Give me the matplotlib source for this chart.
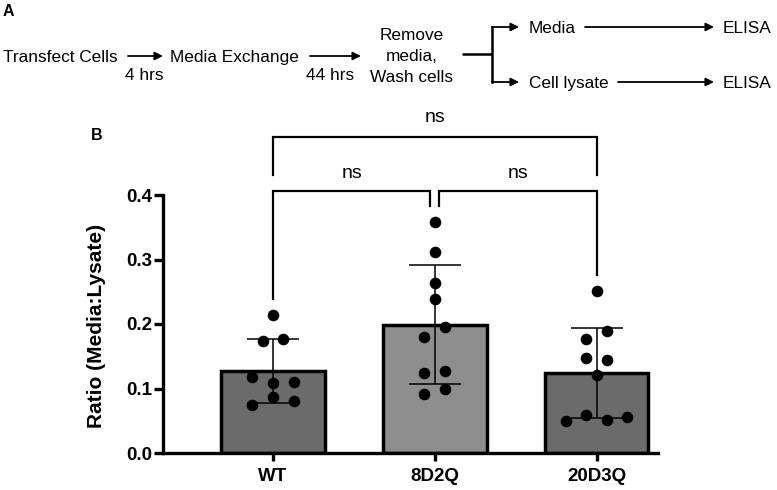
import numpy as np
import matplotlib
matplotlib.use("Agg")
import matplotlib.pyplot as plt

plt.rcParams['font.family'] = ['Liberation Sans', 'DejaVu Sans']

# ---------------- data ----------------
groups = ["WT", "8D2Q", "20D3Q"]
wt = [0.214, 0.174, 0.177, 0.118, 0.109, 0.110, 0.074, 0.087, 0.081]
d8d2q = [0.358, 0.312, 0.264, 0.239, 0.180, 0.195, 0.124, 0.127, 0.091, 0.099]
d20d3q = [0.251, 0.177, 0.189, 0.148, 0.144, 0.121, 0.050, 0.059, 0.051, 0.056]
values = [wt, d8d2q, d20d3q]
bar_colors = ["#6b6b6b", "#8e8e8e", "#6b6b6b"]
yticks = [0.0, 0.1, 0.2, 0.3, 0.4]
comparisons = [("WT", "8D2Q", "ns"), ("8D2Q", "20D3Q", "ns"), ("WT", "20D3Q", "ns")]

W, H = 777, 490
fig = plt.figure(figsize=(W / 100, H / 100), dpi=100)

# ---------------- panel A: flowchart (pixel overlay) ----------------
ov = fig.add_axes([0, 0, 1, 1])
ov.set_xlim(0, W)
ov.set_ylim(H, 0)
ov.axis("off")

fs = 12.4
ov.text(3, 16.5, "A", fontsize=11.5, fontweight="bold", va="baseline", ha="left")
ov.text(3, 62, "Transfect Cells", fontsize=fs, va="baseline", ha="left")
ov.text(144.5, 80, "4 hrs", fontsize=fs, va="baseline", ha="center")
ov.text(170, 62, "Media Exchange", fontsize=fs, va="baseline", ha="left")
ov.text(330, 80, "44 hrs", fontsize=fs, va="baseline", ha="center")
ov.text(412, 40, "Remove", fontsize=fs, va="baseline", ha="center")
ov.text(412, 61, "media,", fontsize=fs, va="baseline", ha="center")
ov.text(412, 82, "Wash cells", fontsize=fs, va="baseline", ha="center")
ov.text(529, 33, "Media", fontsize=fs, va="baseline", ha="left")
ov.text(723, 33, "ELISA", fontsize=fs, va="baseline", ha="left")
ov.text(529, 88, "Cell lysate", fontsize=fs, va="baseline", ha="left")
ov.text(723, 88, "ELISA", fontsize=fs, va="baseline", ha="left")


def arrow(x0, x1, y):
    ov.annotate("", xy=(x1, y), xytext=(x0, y),
                arrowprops=dict(arrowstyle="-|>", color="black", lw=1.3,
                                mutation_scale=12, shrinkA=0, shrinkB=0))


arrow(128, 163, 56)
arrow(310, 361, 56)
arrow(585, 714, 27)
arrow(618, 714, 82)
ov.plot([462, 492], [54.5, 54.5], color="black", lw=1.8, solid_capstyle="butt")
ov.plot([492, 492], [27, 82], color="black", lw=1.8, solid_capstyle="projecting")
arrow(492, 519, 27)
arrow(492, 519, 82)

ov.text(91, 139.5, "B", fontsize=11.5, fontweight="bold", va="baseline", ha="left")

# ---------------- panel B: bar chart ----------------
left, right, bottom, top = 163, 658, 453, 195
ax = fig.add_axes([left / W, 1 - bottom / H, (right - left) / W, (bottom - top) / H])
ax.set_xlim(-0.68, 2.38)
ax.set_ylim(0, 0.4)

x = np.arange(len(groups))
means = [np.mean(v) for v in values]
sds = [np.std(v, ddof=1) for v in values]

ax.bar(x, means, width=0.64, color=bar_colors, edgecolor="black", linewidth=2.5, zorder=1)
ax.errorbar(x, means, yerr=sds, fmt="none", ecolor="black", elinewidth=1.1,
            capsize=19, capthick=1.1, zorder=2)

# beeswarm-like placement: group close values into rows, spread symmetrically
step = 0.0636
row_gap = 0.017
for xi, vals in zip(x, values):
    vals = np.asarray(vals)
    order = np.argsort(-vals, kind="stable")
    rows = []
    for idx in order:
        if rows and vals[rows[-1][-1]] - vals[idx] < row_gap:
            rows[-1].append(idx)
        else:
            rows.append([idx])
    xs = np.zeros(len(vals))
    for r in rows:
        r_sorted = sorted(r)  # keep list order within row
        n = len(r_sorted)
        for k, idx in enumerate(r_sorted):
            xs[idx] = xi + (k - (n - 1) / 2) * 2 * step
    ax.scatter(xs, vals, s=70, color="black", zorder=3, clip_on=False, linewidths=0)

# spines / ticks
for s in ["top", "right"]:
    ax.spines[s].set_visible(False)
for s in ["left", "bottom"]:
    ax.spines[s].set_linewidth(2.4)
ax.set_yticks(yticks)
ax.set_yticklabels([f"{t:.1f}" for t in yticks], fontsize=13.5, fontweight="bold")
ax.set_xticks(x)
ax.set_xticklabels(groups, fontsize=13.5, fontweight="bold")
ax.tick_params(axis="y", length=6.5, width=2.4, pad=1.5)
ax.tick_params(axis="x", length=6, width=2.4, pad=5)
ax.set_ylabel("Ratio (Media:Lysate)", fontsize=15, fontweight="bold")
ax.yaxis.set_label_coords(-0.115, 0.492)

# significance brackets
gmax = {g: max(v) for g, v in zip(groups, values)}
pos = {g: i for i, g in enumerate(groups)}
blw = 1.6
gap = 0.028
leg_off = 0.025


def bracket(x0, x1, yh, yb0, yb1, label, ylab):
    ax.plot([x0, x0, x1, x1], [yb0, yh, yh, yb1], color="black", lw=blw,
            clip_on=False, solid_joinstyle="miter")
    ax.text((x0 + x1) / 2, ylab, label, ha="center", va="center", fontsize=14,
            clip_on=False)


c1, c2, c3 = comparisons
# lower left
bracket(pos[c1[0]], pos[c1[1]] - gap, 0.406,
        gmax[c1[0]] + leg_off, gmax[c1[1]] + leg_off, c1[2], 0.434)
# lower right
bracket(pos[c2[0]] + gap, pos[c2[1]], 0.406,
        gmax[c2[0]] + leg_off, gmax[c2[1]] + leg_off, c2[2], 0.434)
# top
bracket(pos[c3[0]], pos[c3[1]], 0.490, 0.431, 0.431, c3[2], 0.520)

fig.savefig("out.png", dpi=100)
